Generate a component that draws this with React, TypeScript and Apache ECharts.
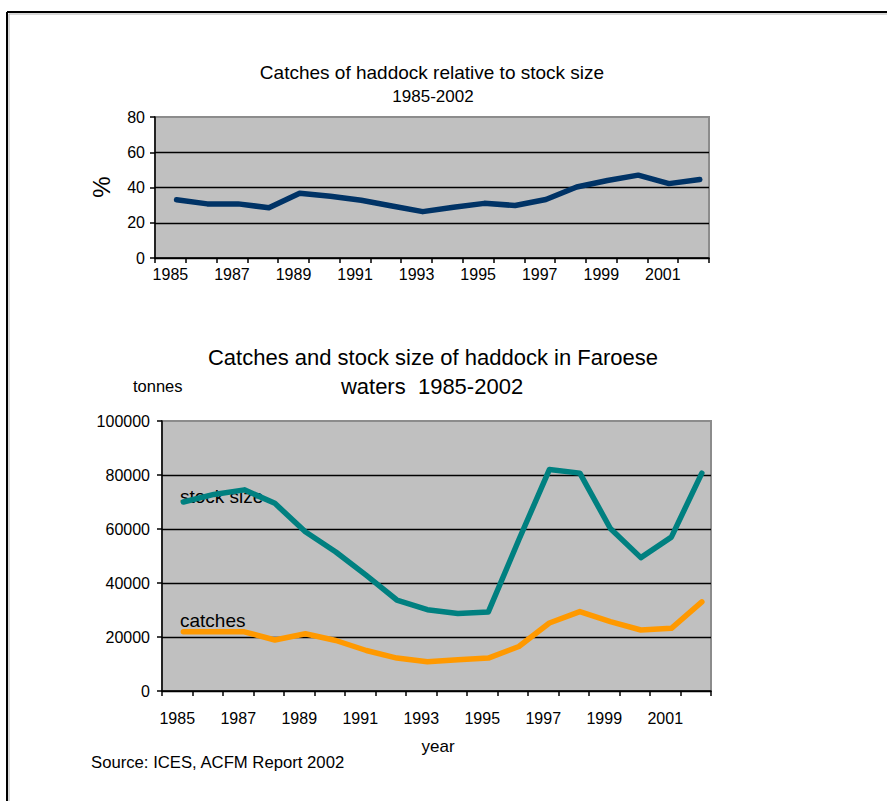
import React, { useEffect, useRef } from "react";
import * as echarts from "echarts";

const years = ["1985","1986","1987","1988","1989","1990","1991","1992","1993","1994","1995","1996","1997","1998","1999","2000","2001","2002"];
const yearNums = years.map((y) => Number(y));
const pctValues = [33, 30.7, 30.7, 28.5, 36.7, 35, 32.8, 29.5, 26.3, 28.8, 31, 29.8, 33.2, 40.3, 44, 47, 42.2, 44.5];
const stockValues = [70000, 72800, 74500, 69500, 59000, 51500, 42800, 33700, 30100, 28700, 29300, 56000, 82000, 80700, 60200, 49400, 57000, 80700];
const catchValues = [21900, 21900, 21900, 18900, 21200, 18700, 15000, 12200, 10800, 11600, 12200, 16500, 25200, 29400, 25700, 22600, 23200, 33000];

const FONT = "'Liberation Sans', Arial, sans-serif";

export default function App() {
  const ref = useRef<HTMLDivElement>(null);
  useEffect(() => {
    if (!ref.current) return;
    const chart = echarts.init(ref.current, null, { renderer: "svg" });
    const pairs = (vals: number[]) => vals.map((v, i) => [yearNums[i], v]);
    const catAxis = (gridIndex: number, margin: number) => ({
      type: "category",
      gridIndex,
      data: years,
      boundaryGap: true,
      axisLine: { show: true, lineStyle: { color: "#000", width: 1.5 } },
      axisTick: { show: true, interval: 0, length: 5, lineStyle: { color: "#000", width: 1.5 } },
      axisLabel: { interval: 1, margin, fontSize: 16, color: "#000", fontFamily: FONT },
      splitLine: { show: false },
    });
    const hiddenX = (gridIndex: number) => ({
      type: "value",
      gridIndex,
      min: 1984.3,
      max: 2002.3,
      show: false,
      splitLine: { show: false },
    });
    const valAxis = (gridIndex: number, max: number, interval: number, margin: number) => ({
      type: "value",
      gridIndex,
      min: 0,
      max,
      interval,
      axisLine: { show: true, lineStyle: { color: "#000", width: 1.5 } },
      axisTick: { show: true, length: 5, lineStyle: { color: "#000", width: 1.5 } },
      axisLabel: { margin, fontSize: 16, color: "#000", fontFamily: FONT, formatter: (v: number) => String(v) },
      splitLine: { show: true, showMaxLine: false, lineStyle: { color: "#000", width: 1.3 } },
    });
    const txt = (text: string, x: number, y: number, fontSize: number, align = "center", rotation = 0) => ({
      type: "text",
      x,
      y,
      rotation,
      style: { text, fontSize, fontFamily: FONT, fill: "#000", textAlign: align, textVerticalAlign: "middle" },
    });
    chart.setOption({
      animation: false,
      backgroundColor: "#fff",
      grid: [
        { left: 155, top: 117, width: 554, height: 141, show: true, backgroundColor: "#c0c0c0", borderColor: "#8c8c8c", borderWidth: 2 },
        { left: 162, top: 421, width: 549, height: 270, show: true, backgroundColor: "#c0c0c0", borderColor: "#8c8c8c", borderWidth: 2 },
      ],
      xAxis: [catAxis(0, 8), catAxis(1, 19), hiddenX(0), hiddenX(1)],
      yAxis: [valAxis(0, 80, 20, 10), valAxis(1, 100000, 20000, 12)],
      series: [
        { type: "line", xAxisIndex: 2, yAxisIndex: 0, data: pairs(pctValues), showSymbol: false, lineStyle: { color: "#003366", width: 5.5, cap: "round", join: "round" } },
        { type: "line", xAxisIndex: 3, yAxisIndex: 1, data: pairs(stockValues), showSymbol: false, lineStyle: { color: "#008080", width: 5.5, cap: "round", join: "round" } },
        { type: "line", xAxisIndex: 3, yAxisIndex: 1, data: pairs(catchValues), showSymbol: false, lineStyle: { color: "#ff9900", width: 5.5, cap: "round", join: "round" } },
      ],
      graphic: [
        { type: "line", shape: { x1: 7, y1: 12, x2: 887, y2: 12 }, style: { stroke: "#000", lineWidth: 2 } },
        { type: "line", shape: { x1: 7, y1: 12, x2: 7, y2: 801 }, style: { stroke: "#000", lineWidth: 2 } },
        { type: "line", shape: { x1: 9, y1: 14, x2: 887, y2: 14 }, style: { stroke: "#b0b0b0", lineWidth: 1 } },
        { type: "line", shape: { x1: 9, y1: 14, x2: 9, y2: 801 }, style: { stroke: "#b0b0b0", lineWidth: 1 } },
        txt("Catches of haddock relative to stock size", 432, 72, 19),
        txt("1985-2002", 433, 96, 17),
        txt("%", 101, 187, 24, "center", Math.PI / 2),
        txt("Catches and stock size of haddock in Faroese", 433, 357, 22),
        txt("waters  1985-2002", 432, 386, 22),
        txt("tonnes", 133, 386, 16.5, "left"),
        txt("stock size", 180, 496, 19, "left"),
        txt("catches", 180, 620, 19, "left"),
        txt("year", 438, 746, 17),
        txt("Source: ICES, ACFM Report 2002", 91, 762, 16.7, "left"),
      ],
    });
    return () => chart.dispose();
  }, []);
  return <div ref={ref} style={{ position: "absolute", left: 0, top: 0, width: 887, height: 801 }} />;
}
